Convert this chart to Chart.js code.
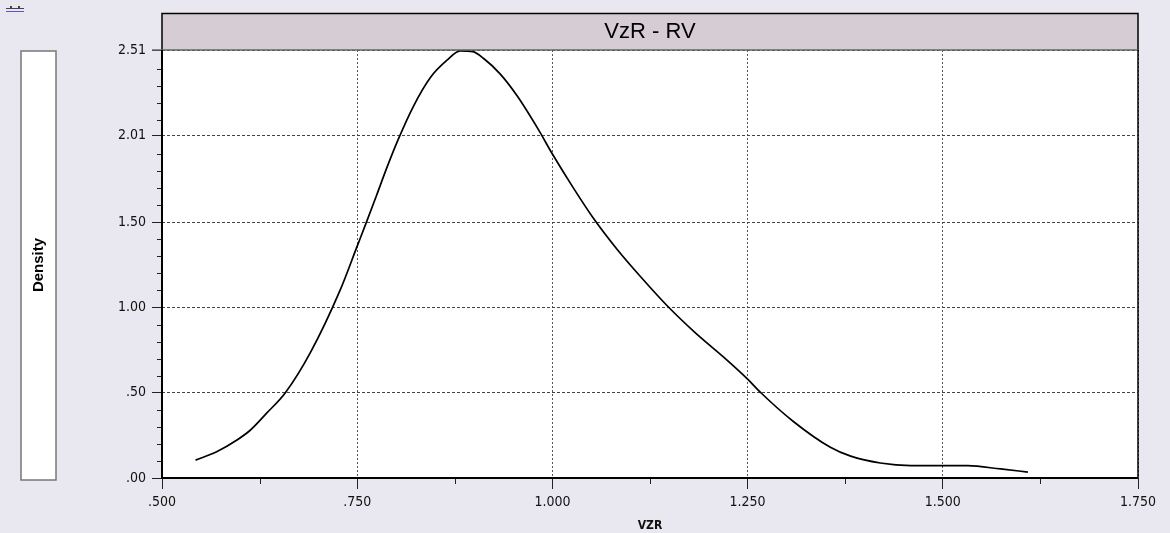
<!DOCTYPE html>
<html>
<head>
<meta charset="utf-8">
<script src="https://cdn.jsdelivr.net/npm/chart.js@4/dist/chart.umd.min.js"></script>
<style>
  html, body { margin: 0; padding: 0; background: #e9e7ef; }
  canvas { display: block; }
</style>
</head>
<body>
<canvas id="densityChart" width="1170" height="533"></canvas>
<script>
// Density curve
const vzr = [0.543, 0.570, 0.596, 0.613, 0.634, 0.658, 0.690, 0.728, 0.750, 0.761, 0.775, 0.788, 0.802, 0.822, 0.844, 0.865, 0.882,
  0.898, 0.912, 0.933, 0.955, 0.9825, 1.000, 1.027, 1.053, 1.083, 1.113, 1.147, 1.181, 1.224, 1.250, 1.267, 1.309, 1.356, 1.382,
  1.420, 1.459, 1.532, 1.574, 1.609];
const density = [0.105, 0.154, 0.223, 0.280, 0.380, 0.500, 0.735, 1.100, 1.360, 1.490, 1.660, 1.820, 1.980, 2.180, 2.350, 2.450, 2.505,
  2.500, 2.460, 2.370, 2.240, 2.040, 1.900, 1.700, 1.520, 1.340, 1.180, 1.010, 0.860, 0.690, 0.580, 0.500, 0.330, 0.180, 0.128,
  0.088, 0.073, 0.072, 0.053, 0.035];

// Axis ticks
const xTicks = [0.5, 0.75, 1.0, 1.25, 1.5, 1.75];
const xMinorTicks = [0.625, 0.875, 1.125, 1.375, 1.625];
const yTicks = [0, 0.5, 1.0, 1.5, 2.01, 2.51];
const yMinorStep = 0.1;

const chartTitle = 'VzR - RV';
const xTitle = 'VZR';
const yTitle = 'Density';

const tickFont = { family: "'DejaVu Sans Condensed', 'Liberation Sans Narrow', sans-serif", size: 14 };

function fmt(v, digits) {
  let s = v.toFixed(digits);
  if (s.startsWith('0.')) s = s.slice(1);
  return s;
}

// Frame, title strip, y-title box and minor ticks
const decorations = {
  id: 'decorations',
  beforeDraw(chart) {
    const { ctx, chartArea: a } = chart;
    ctx.save();
    ctx.fillStyle = '#e9e7ef';
    ctx.fillRect(0, 0, chart.width, chart.height);

    // little icon top left
    ctx.fillStyle = '#444';
    ctx.fillRect(6, 8, 18, 1);
    ctx.fillRect(10, 6, 2, 2);
    ctx.fillRect(18, 6, 2, 2);
    ctx.fillStyle = '#5555cc';
    ctx.fillRect(6, 11, 18, 1);

    // title strip
    ctx.fillStyle = '#d6ccd4';
    ctx.fillRect(a.left, 13, a.right - a.left, a.top - 13);
    ctx.strokeStyle = '#000';
    ctx.lineWidth = 1.5;
    ctx.beginPath();
    ctx.moveTo(a.left, a.top);
    ctx.lineTo(a.left, 13.5);
    ctx.lineTo(a.right, 13.5);
    ctx.lineTo(a.right, a.top);
    ctx.stroke();
    ctx.fillStyle = '#000';
    ctx.font = "22px 'Liberation Sans', Arial, sans-serif";
    ctx.textAlign = 'center';
    ctx.textBaseline = 'middle';
    ctx.fillText(chartTitle, (a.left + a.right) / 2, 32);

    // plot background
    ctx.fillStyle = '#fff';
    ctx.fillRect(a.left, a.top, a.right - a.left, a.bottom - a.top);

    // y title box
    ctx.fillStyle = '#fff';
    ctx.fillRect(21, 51, 35, 429);
    ctx.strokeStyle = '#777';
    ctx.lineWidth = 1.5;
    ctx.strokeRect(21, 51, 35, 429);
    ctx.save();
    ctx.translate(39, 265);
    ctx.rotate(-Math.PI / 2);
    ctx.fillStyle = '#000';
    ctx.font = "bold 15px 'Liberation Sans', Arial, sans-serif";
    ctx.fillText(yTitle, 0, 0);
    ctx.restore();
    ctx.restore();
  },
  afterDraw(chart) {
    const { ctx, chartArea: a, scales } = chart;
    ctx.save();
    ctx.strokeStyle = '#222';
    ctx.lineWidth = 1;
    // minor ticks x
    xMinorTicks.forEach(v => {
      const px = Math.round(scales.x.getPixelForValue(v)) + 0.5;
      ctx.beginPath();
      ctx.moveTo(px, a.bottom);
      ctx.lineTo(px, a.bottom + 6);
      ctx.stroke();
    });
    // minor ticks y
    for (let v = yMinorStep; v < 2.51; v += yMinorStep) {
      if (yTicks.some(t => Math.abs(t - v) < 0.03)) continue;
      const py = Math.round(scales.y.getPixelForValue(v)) + 0.5;
      ctx.beginPath();
      ctx.moveTo(a.left - 5, py);
      ctx.lineTo(a.left, py);
      ctx.stroke();
    }
    // frame
    ctx.strokeStyle = '#666';
    ctx.lineWidth = 1.5;
    ctx.beginPath();
    ctx.moveTo(a.left - 10, a.top);
    ctx.lineTo(a.right, a.top);
    ctx.stroke();
    ctx.strokeStyle = '#000';
    ctx.lineWidth = 2;
    ctx.beginPath();
    ctx.moveTo(a.left, a.top);
    ctx.lineTo(a.left, a.bottom);
    ctx.lineTo(a.right, a.bottom);
    ctx.stroke();
    ctx.lineWidth = 1.5;
    ctx.beginPath();
    ctx.moveTo(a.right, a.top);
    ctx.lineTo(a.right, a.bottom);
    ctx.stroke();
    ctx.restore();
  }
};

const ctx = document.getElementById('densityChart').getContext('2d');
const densityChart = new Chart(ctx, {
  type: 'line',
  data: {
    datasets: [{
      label: yTitle,
      data: vzr.map((x, i) => ({ x: x, y: density[i] })),
      borderColor: '#000',
      borderWidth: 1.7,
      pointRadius: 0,
      fill: false,
      cubicInterpolationMode: 'monotone'
    }]
  },
  options: {
    responsive: false,
    animation: false,
    events: [],
    layout: { padding: { left: 100, top: 50, right: 32, bottom: 0 } },
    plugins: { legend: { display: false }, tooltip: { enabled: false } },
    scales: {
      x: {
        type: 'linear',
        min: 0.5,
        max: 1.75,
        afterBuildTicks: s => { s.ticks = xTicks.map(v => ({ value: v })); },
        afterFit: s => { s.height = 55; },
        ticks: {
          color: '#111',
          font: tickFont,
          padding: 5,
          maxRotation: 0,
          callback: v => fmt(v, 3)
        },
        grid: {
          color: '#555',
          lineWidth: 1,
          tickLength: 11,
          tickColor: '#222'
        },
        border: { display: false, dash: [2, 2] },
        title: {
          display: true,
          text: xTitle,
          color: '#111',
          font: { family: tickFont.family, size: 12, weight: 'bold' },
          padding: { top: 0, bottom: 0 }
        }
      },
      y: {
        type: 'linear',
        min: 0,
        max: 2.51,
        afterBuildTicks: s => { s.ticks = yTicks.map(v => ({ value: v })); },
        afterFit: s => { s.width = 62; },
        ticks: {
          color: '#111',
          font: tickFont,
          padding: 6,
          callback: v => fmt(v, 2)
        },
        grid: {
          color: '#444',
          lineWidth: 1,
          tickLength: 10,
          tickColor: '#222'
        },
        border: { display: false, dash: [3, 2] }
      }
    }
  },
  plugins: [decorations]
});
</script>
</body>
</html>
